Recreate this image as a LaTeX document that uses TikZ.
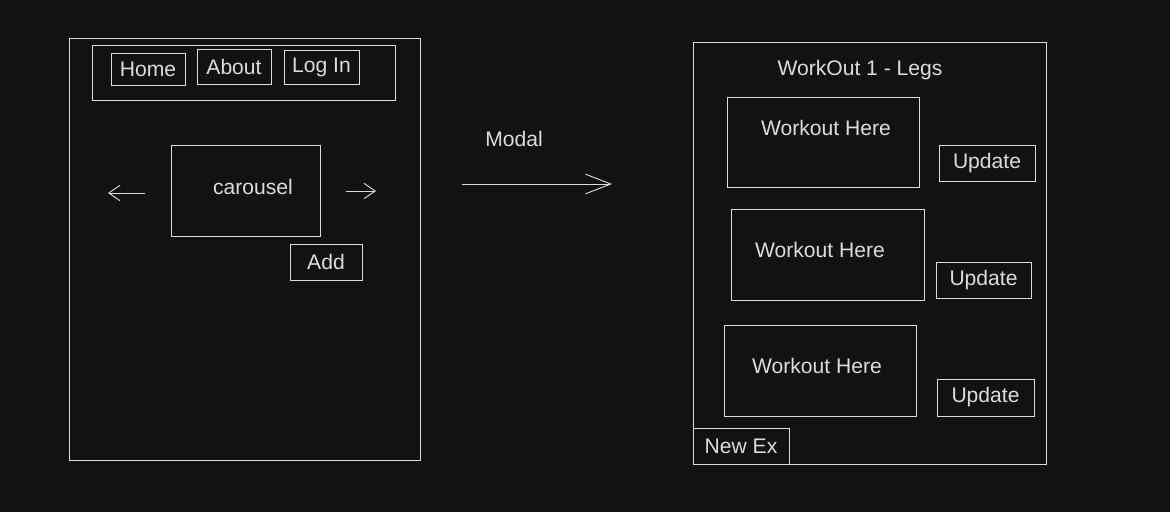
\documentclass[tikz,border=0pt]{standalone}
\usepackage{fontspec}
\setmainfont{Liberation Sans}
\usetikzlibrary{arrows.meta}
\definecolor{bgdark}{HTML}{121212}
\definecolor{chalk}{HTML}{DCDCDC}
\def\pxu{0.025cm}

\begin{document}
\begin{tikzpicture}[x=\pxu,y=-\pxu,draw=chalk,line width=0.65pt,font=\fontsize{15}{18}\selectfont]
    \tikzstyle{box}=[draw,rectangle,inner sep=0pt,text=chalk]
    \tikzstyle{lbl}=[inner sep=0pt,text=chalk]
    \tikzstyle{smallbarb}=[-{Straight Barb[length=8pt,width=11pt]}]
    \tikzstyle{bigbarb}=[-{Straight Barb[length=18pt,width=14pt]}]

    % Background
    \fill[bgdark] (0,0) rectangle (1170,512);
    \useasboundingbox (0,0) rectangle (1170,512);

    % Home page
    \node[box,minimum width=351*\pxu,minimum height=422*\pxu] (lframe) at (244.5,249) {};
    \node[box,minimum width=303*\pxu,minimum height=55*\pxu] (nav) at (243.5,72.5) {};
    \node[box,minimum width=74*\pxu,minimum height=32*\pxu] (home) at (148,69) {Home};
    \node[box,minimum width=74*\pxu,minimum height=35*\pxu] (about) at (234,66.5) {About};
    \node[box,minimum width=75*\pxu,minimum height=34*\pxu] (login) at (321.5,67) {Log In};
    \node[box,minimum width=149*\pxu,minimum height=91*\pxu] (carousel) at (245.5,190.5) {};
    \node[lbl] (carouseltxt) at (253,187) {carousel};
    \node[box,minimum width=72*\pxu,minimum height=36*\pxu] (add) at (326,262) {Add};

    % Carousel arrows
    \coordinate (prevA) at (145,193);
    \coordinate (prevB) at (108,193);
    \coordinate (nextA) at (346,191);
    \coordinate (nextB) at (376,191);
    \draw[smallbarb] (prevA) -- (prevB);
    \draw[smallbarb] (nextA) -- (nextB);

    % Modal arrow
    \node[lbl] (modal) at (514,139) {Modal};
    \coordinate (modalA) at (462,184);
    \coordinate (modalB) at (612,184);
    \draw[bigbarb] (modalA) -- (modalB);

    % Workout modal
    \node[box,minimum width=353*\pxu,minimum height=422*\pxu] (rframe) at (869.5,253) {};
    \node[lbl] (title) at (860,70) {WorkOut 1 - Legs};

    \node[box,minimum width=192*\pxu,minimum height=90*\pxu] (work1) at (823,142) {};
    \node[lbl] (work1txt) at (826,128) {Workout Here};
    \node[box,minimum width=96*\pxu,minimum height=36*\pxu] (upd1) at (987,163) {Update};

    \node[box,minimum width=193*\pxu,minimum height=91*\pxu] (work2) at (827.5,254.5) {};
    \node[lbl] (work2txt) at (820,250) {Workout Here};
    \node[box,minimum width=95*\pxu,minimum height=36*\pxu] (upd2) at (983.5,280) {Update};

    \node[box,minimum width=192*\pxu,minimum height=91*\pxu] (work3) at (820,370.5) {};
    \node[lbl] (work3txt) at (817,366) {Workout Here};
    \node[box,minimum width=97*\pxu,minimum height=37*\pxu] (upd3) at (985.5,397.5) {Update};

    \node[box,minimum width=96*\pxu,minimum height=36*\pxu] (newex) at (741,446) {New Ex};
\end{tikzpicture}
\end{document}
